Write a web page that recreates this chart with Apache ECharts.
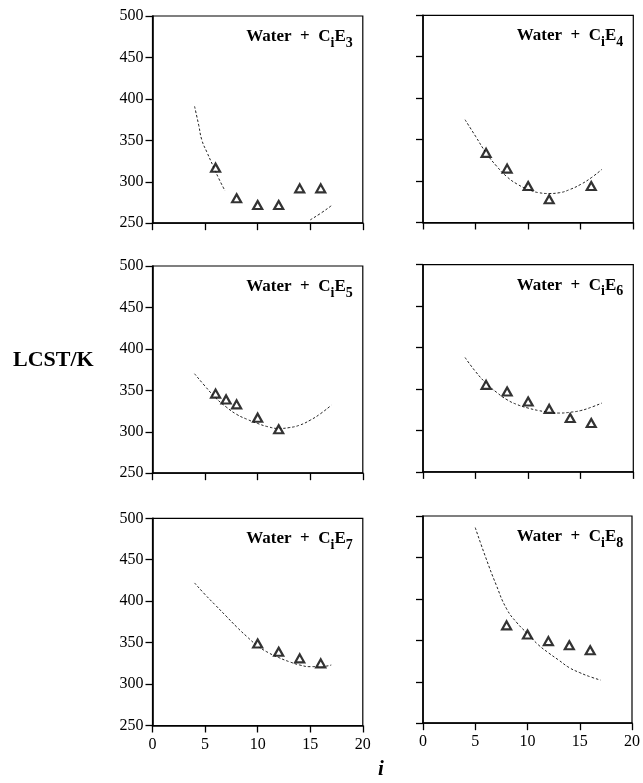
<!DOCTYPE html>
<html>
<head>
<meta charset="utf-8">
<script src="https://cdn.jsdelivr.net/npm/echarts@6/dist/echarts.min.js"></script>
<style>
html,body{margin:0;padding:0;background:#fff;}
#main{width:643px;height:783px;}
</style>
</head>
<body>
<div id="main"></div>
<script>
// ---- data ----
const xTickValues = [0, 5, 10, 15, 20];
const yTickValues = [250, 300, 350, 400, 450, 500];
const subscripts = ['3', '4', '5', '6', '7', '8'];

// C_iE_3
const e3_i = [6, 8, 10, 12, 14, 16];
const e3_T = [317, 280, 272, 272, 292, 292];
const e3_fitA_i = [4, 4.4, 4.7, 5.2, 5.8, 6.3, 6.9];
const e3_fitA_T = [391, 368, 350, 335, 318, 304, 289];
const e3_fitB_i = [15, 16, 17];
const e3_fitB_T = [254, 262, 271];

// C_iE_4
const e4_i = [6, 8, 10, 12, 16];
const e4_T = [334, 315, 294, 278, 294];
const e4_fit_i = [4, 5, 6, 7, 8, 9, 10, 11, 12, 13, 14, 15, 16, 17];
const e4_fit_T = [374, 354, 334, 318, 305, 296, 290, 286, 285, 286, 290, 296, 304, 314];

// C_iE_5
const e5_i = [6, 7, 8, 10, 12];
const e5_T = [346, 339, 333, 317, 303];
const e5_fit_i = [4, 5, 6, 7, 8, 9, 10, 11, 12, 13, 14, 15, 16, 17];
const e5_fit_T = [370, 355, 341, 330, 321, 315, 310, 306, 304, 305, 308, 314, 322, 332];

// C_iE_6
const e6_i = [6, 8, 10, 12, 14, 16];
const e6_T = [355, 347, 335, 326, 315, 309];
const e6_fit_i = [4, 5, 6, 7, 8, 9, 10, 11, 12, 13, 14, 15, 16, 17];
const e6_fit_T = [388, 371, 357, 346, 337, 331, 327, 324, 322, 321, 322, 324, 328, 333];

// C_iE_7
const e7_i = [10, 12, 14, 16];
const e7_T = [349, 339, 331, 325];
const e7_fit_i = [4, 5, 6, 7, 8, 9, 10, 11, 12, 13, 14, 15, 16, 17];
const e7_fit_T = [422, 408, 395, 382, 369, 357, 346, 338, 332, 327, 323, 321, 321, 323];

// C_iE_8
const e8_i = [8, 10, 12, 14, 16];
const e8_T = [368, 357, 349, 344, 338];
const e8_fit_i = [5, 6, 7, 8, 9, 10, 11, 12, 13, 14, 15, 16, 17];
const e8_fit_T = [486, 450, 417, 388, 371, 358, 345, 335, 326, 317, 311, 306, 302];

// ---- layout ----
const chart = echarts.init(document.getElementById('main'), null, {renderer: 'canvas'});
const serif = '"Liberation Serif", "Times New Roman", serif';
const colLeft = [152.5, 423];
const gridW = 210.3;
const rowTop = [[16, 15.3], [266, 264.7], [518.3, 516]];
const gridH = 207.2;

const pts = (xs, ys) => xs.map((x, k) => [x, ys[k]]);
const panels = [
  {pts: pts(e3_i, e3_T), fits: [pts(e3_fitA_i, e3_fitA_T), pts(e3_fitB_i, e3_fitB_T)]},
  {pts: pts(e4_i, e4_T), fits: [pts(e4_fit_i, e4_fit_T)]},
  {pts: pts(e5_i, e5_T), fits: [pts(e5_fit_i, e5_fit_T)]},
  {pts: pts(e6_i, e6_T), fits: [pts(e6_fit_i, e6_fit_T)]},
  {pts: pts(e7_i, e7_T), fits: [pts(e7_fit_i, e7_fit_T)]},
  {pts: pts(e8_i, e8_T), fits: [pts(e8_fit_i, e8_fit_T)]}
];

const grids = [], xAxes = [], yAxes = [], series = [], titles = [];
panels.forEach((p, k) => {
  const row = Math.floor(k / 2), col = k % 2;
  const left = colLeft[col], top = rowTop[row][col];
  grids.push({left: left, top: top, width: gridW, height: gridH,
    show: true, borderColor: '#000', borderWidth: 1.2, backgroundColor: 'transparent'});
  xAxes.push({type: 'value', gridIndex: k, min: xTickValues[0], max: xTickValues[xTickValues.length - 1], interval: 5,
    axisLine: {show: true, onZero: false, lineStyle: {color: '#000', width: 1.6}},
    axisTick: {show: true, inside: false, length: 7, lineStyle: {color: '#000', width: 1.3}},
    splitLine: {show: false},
    axisLabel: {show: row === 2, margin: 11, color: '#000', fontFamily: serif, fontSize: 16}});
  yAxes.push({type: 'value', gridIndex: k, min: yTickValues[0], max: yTickValues[yTickValues.length - 1], interval: 50,
    axisLine: {show: true, onZero: false, lineStyle: {color: '#000', width: 1.6}},
    axisTick: {show: true, inside: false, length: 7, lineStyle: {color: '#000', width: 1.3}},
    splitLine: {show: false},
    axisLabel: {show: col === 0, margin: 9, color: '#000', fontFamily: serif, fontSize: 16}});
  p.fits.forEach(f => series.push({type: 'line', xAxisIndex: k, yAxisIndex: k, data: f, smooth: true,
    symbol: 'none', silent: true, lineStyle: {color: '#222', width: 1, type: [2.5, 2]}, z: 1}));
  series.push({type: 'scatter', xAxisIndex: k, yAxisIndex: k, data: p.pts, symbol: 'triangle',
    symbolSize: [9, 8], itemStyle: {color: '#fff', borderColor: '#000', borderWidth: 2.2}, z: 3});
  titles.push({text: '{b|Water  +  C}{s|i}{b|E}{s|' + subscripts[k] + '}',
    right: 643 - (left + gridW) + 10, top: top + 12, padding: 0,
    textStyle: {rich: {
      b: {fontFamily: serif, fontWeight: 'bold', fontSize: 17, color: '#000', verticalAlign: 'top', lineHeight: 19},
      s: {fontFamily: serif, fontWeight: 'bold', fontSize: 14, color: '#000', verticalAlign: 'top', lineHeight: 14, padding: [8, 0, 0, 0]}
    }}});
});

chart.setOption({
  animation: false,
  backgroundColor: '#fff',
  title: titles,
  grid: grids,
  xAxis: xAxes,
  yAxis: yAxes,
  series: series,
  graphic: [
    {type: 'text', left: 13, top: 349, style: {text: 'LCST/K', fontFamily: serif, fontWeight: 'bold', fontSize: 22, fill: '#000'}},
    {type: 'text', left: 378, top: 759, style: {text: 'i', fontFamily: serif, fontWeight: 'bold', fontStyle: 'italic', fontSize: 21, fill: '#000'}}
  ]
});
</script>
</body>
</html>
